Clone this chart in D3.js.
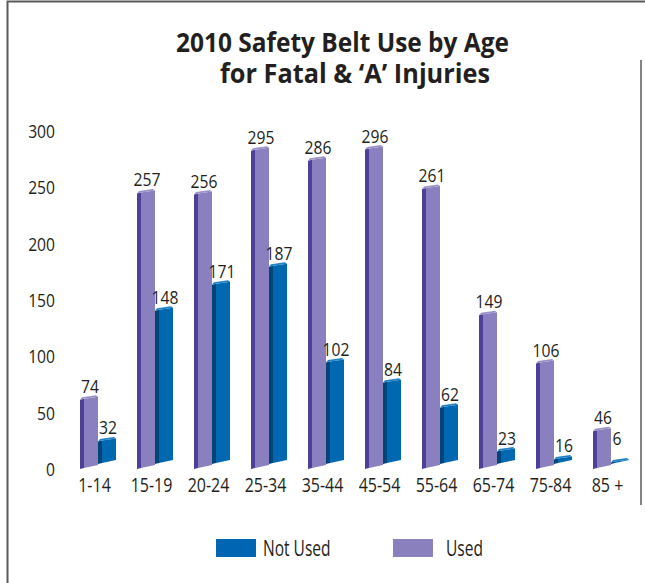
<!DOCTYPE html>
<html>
<head>
<meta charset="utf-8">
<script src="https://cdn.jsdelivr.net/npm/d3@7"></script>
<style>
  body { margin: 0; background: #fff; }
  svg { display: block; }
  text { font-family: "Open Sans", sans-serif; fill: #231f20; }
</style>
</head>
<body>
<svg id="chart" width="645" height="583"></svg>
<script>
    // data
    var ageGroups = ['1-14', '15-19', '20-24', '25-34', '35-44', '45-54', '55-64', '65-74', '75-84', '85 +'];
    var usedValues = [74, 257, 256, 295, 286, 296, 261, 149, 106, 46];
    var notUsedValues = [32, 148, 171, 187, 102, 84, 62, 23, 16, 6];
    var seriesNames = ['Used', 'Not Used'];
    var yTicks = [0, 50, 100, 150, 200, 250, 300];
    var titleLines = ['2010 Safety Belt Use by Age', 'for Fatal & \u2018A\u2019 Injuries'];

    var svg = d3.select('#chart');

    // squeeze text horizontally, the original uses a condensed face
    function squeeze(sel, f) {
        sel.each(function () {
            var w = this.getComputedTextLength();
            d3.select(this).attr('textLength', w * f).attr('lengthAdjust', 'spacingAndGlyphs');
        });
    }

    // frame
    svg.append('path').attr('d', 'M7.5,583 V1.5 H645')
        .attr('fill', 'none').attr('stroke', '#5a5a5a').attr('stroke-width', 2);
    svg.append('line').attr('x1', 641).attr('x2', 641).attr('y1', 60).attr('y2', 505)
        .attr('stroke', '#5a5a5a').attr('stroke-width', 1.5);

    // title
    var titleX = [342.5, 355], titleY = [52, 83], titleW = [333, 270];
    svg.selectAll('.title').data(titleLines).enter().append('text')
        .attr('class', 'title')
        .attr('x', function (d, i) { return titleX[i]; })
        .attr('y', function (d, i) { return titleY[i]; })
        .attr('text-anchor', 'middle')
        .attr('textLength', function (d, i) { return titleW[i]; })
        .attr('lengthAdjust', 'spacingAndGlyphs')
        .style('font-weight', 'bold')
        .style('font-size', '26.5px')
        .text(function (d) { return d; });

    // scales
    var y = d3.scaleLinear().domain([0, 300]).range([469, 131]);
    var x = d3.scaleBand().domain(ageGroups).range([69.5, 639.5])
        .paddingInner(21 / 57).paddingOuter(21 / 114);
    var xs = d3.scaleBand().domain(seriesNames).range([0, x.bandwidth()]);

    // axis
    var axis = svg.append('g').attr('transform', 'translate(58,0)')
        .call(d3.axisLeft(y).tickValues(yTicks).tickSize(0).tickPadding(3));
    axis.select('.domain').remove();
    axis.selectAll('text').style('font-family', null).style('font-size', '18px').attr('dy', '0.36em');
    axis.attr('font-family', null).attr('font-size', null);
    squeeze(axis.selectAll('text'), 0.87);

    // bar styles per series
    var look = {
        'Used': {front: '#8a80bf', side: '#4f3f98', cap: '#9a91c9', floor: 467, shift: 12},
        'Not Used': {front: '#0068b1', side: '#004478', cap: '#1f82c6', floor: 462, shift: 6.5}
    };
    var depth = 4;

    var bars = [];
    ageGroups.forEach(function (g, i) {
        bars.push({group: g, series: 'Used', value: usedValues[i]});
        bars.push({group: g, series: 'Not Used', value: notUsedValues[i]});
    });
    bars.forEach(function (b) {
        var st = look[b.series];
        b.x0 = x(b.group) + xs(b.series);
        b.w = xs.bandwidth() - depth;
        b.yb = st.floor;
        b.yt = y(b.value) + st.shift;
        b.clamped = b.yt > b.yb - 1.5;
        if (b.clamped) b.yt = b.yb - 1.5;
    });

    function pts(a) { return a.map(function (p) { return p.join(','); }).join(' '); }

    var g = svg.append('g');
    var bar = g.selectAll('.bar').data(bars).enter().append('g').attr('class', 'bar');
    bar.append('polygon')
        .attr('points', function (d) {
            return pts([[d.x0, d.yt + 2], [d.x0 + depth, d.yt + 1], [d.x0 + depth, d.yb + 1], [d.x0, d.yb + 2]]);
        })
        .attr('fill', function (d) { return look[d.series].side; });
    bar.append('polygon')
        .attr('points', function (d) {
            var r = d.x0 + depth + d.w;
            return pts([[d.x0 + depth, d.yt + 1], [r, d.yt - 1], [r, d.yb - 2], [d.x0 + depth, d.yb + 1]]);
        })
        .attr('fill', function (d) { return look[d.series].front; });
    bar.append('polygon')
        .attr('points', function (d) {
            var r = d.x0 + depth + d.w;
            return pts([[d.x0, d.yt + 2], [d.x0 + 2, d.yt - 0.5], [r - 2, d.yt - 2.5], [r, d.yt - 1], [d.x0 + depth, d.yt + 1]]);
        })
        .attr('fill', function (d) { return look[d.series].cap; });

    // value labels
    var vals = g.selectAll('.val').data(bars).enter().append('text')
        .attr('class', 'val')
        .attr('x', function (d) { return d.x0 + 10 - (d.clamped ? 4 : 0); })
        .attr('y', function (d) { return d.clamped ? d.yb - 17 : d.yt - 5; })
        .attr('text-anchor', 'middle')
        .style('font-size', '18px')
        .text(function (d) { return d.value; });
    squeeze(vals, 0.87);

    // category labels
    var cats = svg.selectAll('.cat').data(ageGroups).enter().append('text')
        .attr('class', 'cat')
        .attr('x', function (d) { return x(d) + x.bandwidth() / 2 - 3.5; })
        .attr('y', 492)
        .attr('text-anchor', 'middle')
        .style('font-size', '20px')
        .text(function (d) { return d; });
    squeeze(cats, 0.8);

    // legend
    var legendItems = ['Not Used', 'Used'];
    var legendX = d3.scaleOrdinal().domain(legendItems).range([216, 393]);
    var leg = svg.selectAll('.leg').data(legendItems).enter().append('g')
        .attr('class', 'leg')
        .attr('transform', function (d) { return 'translate(' + legendX(d) + ',539)'; });
    leg.append('rect').attr('width', 40).attr('height', 18)
        .attr('fill', function (d) { return d === 'Used' ? '#8b80be' : '#0066b3'; });
    var legText = leg.append('text')
        .attr('x', function (d) { return d === 'Used' ? 53 : 47; })
        .attr('y', 17)
        .style('font-size', '21px')
        .text(function (d) { return d; });
    squeeze(legText, 0.74);
</script>
</body>
</html>
